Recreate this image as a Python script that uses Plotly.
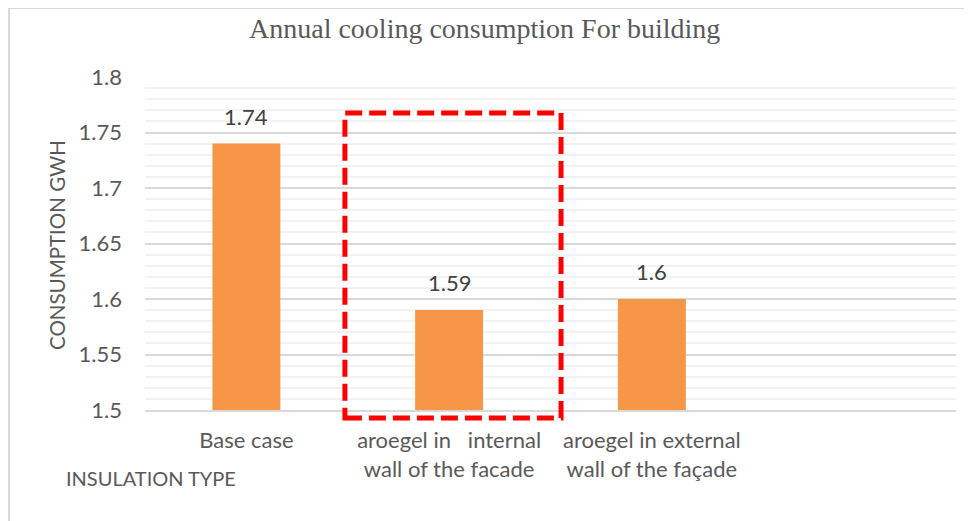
import plotly.graph_objects as go

# ---- data ----
categories = [
    "Base case",
    "aroegel in   internal<br>wall of the facade",
    "aroegel in external<br>wall of the façade",
    "",
]
values = [1.74, 1.59, 1.6, None]
y_ticks = [1.5, 1.55, 1.6, 1.65, 1.7, 1.75, 1.8]
y_tick_labels = ["1.5", "1.55", "1.6", "1.65", "1.7", "1.75", "1.8"]
title_text = "Annual cooling consumption For building"
y_title = "CONSUMPTION GWH"
x_title = "INSULATION TYPE"

# page body adds an 8px offset; work in window coordinates and convert
OFF = 8
W, H = 972 - OFF, 521 - OFF
L = 145 - OFF
R = W - (956 - OFF)
T = 77 - OFF
B = H - (410 - OFF)
pw, ph = W - L - R, H - T - B

X_RANGE = [-0.5, 3.5]
Y_RANGE = [1.5, 1.8]

def px_x(px):
    return (px - OFF - L) / pw

def px_y(py):
    return (H - B - (py - OFF)) / ph

def dx(v):
    return (v - X_RANGE[0]) / (X_RANGE[1] - X_RANGE[0])

def dy(v):
    return (v - Y_RANGE[0]) / (Y_RANGE[1] - Y_RANGE[0])

xs = list(range(len(categories)))

fig = go.Figure()
fig.add_trace(go.Bar(
    x=xs, y=values,
    marker=dict(color="#F79646", line=dict(width=0)),
    hoverinfo="skip",
))

label_font = dict(family="Lato, Open Sans, sans-serif", size=22, color="#595959")

annotations = []
for xi, v in zip(xs, values):
    if v is None:
        continue
    annotations.append(dict(
        x=xi, y=v, xref="x", yref="y", text=f"{v:g}", showarrow=False,
        yanchor="bottom", yshift=12,
        font=dict(family="Lato, Open Sans, sans-serif", size=22, color="#404040"),
    ))

annotations.append(dict(
    x=px_x(57), y=px_y(245), xref="paper", yref="paper", text=y_title,
    textangle=-90, showarrow=False, xanchor="center", yanchor="middle",
    font=dict(family="Lato, Open Sans, sans-serif", size=20.5, color="#595959"),
))
annotations.append(dict(
    x=px_x(64), y=px_y(478), xref="paper", yref="paper", text=x_title,
    showarrow=False, xanchor="left", yanchor="middle",
    font=dict(family="Lato, Open Sans, sans-serif", size=20, color="#595959"),
))
annotations.append(dict(
    x=px_x(484), y=px_y(29), xref="paper", yref="paper", text=title_text,
    showarrow=False, xanchor="center", yanchor="middle",
    font=dict(family="Liberation Serif, serif", size=28, color="#595959"),
))

shapes = [
    # outer chart border (top and left)
    dict(type="line", xref="paper", yref="paper",
         x0=px_x(8), x1=px_x(972), y0=px_y(8), y1=px_y(8),
         line=dict(color="#D9D9D9", width=2)),
    dict(type="line", xref="paper", yref="paper",
         x0=px_x(9), x1=px_x(9), y0=px_y(8), y1=px_y(521),
         line=dict(color="#D9D9D9", width=2)),
    # red dashed highlight box (paper refs so it is not clipped at the axis)
    dict(type="rect", xref="paper", yref="paper",
         x0=dx(0.486), x1=dx(1.552), y0=dy(1.4928), y1=dy(1.7676),
         line=dict(color="#FF0000", width=5, dash="17px,7px"),
         fillcolor="rgba(0,0,0,0)"),
]

fig.update_layout(
    width=W, height=H,
    margin=dict(l=L, r=R, t=T, b=B),
    paper_bgcolor="white", plot_bgcolor="white",
    showlegend=False,
    bargap=0.665,
    xaxis=dict(
        range=X_RANGE, tickmode="array", tickvals=xs, ticktext=categories,
        showgrid=False, zeroline=False, showline=True, linecolor="#D9D9D9",
        linewidth=2, ticks="", tickfont=label_font, ticklabelstandoff=10,
        fixedrange=True,
    ),
    yaxis=dict(
        range=Y_RANGE, tickmode="array", tickvals=y_ticks,
        ticktext=y_tick_labels, showgrid=True, gridcolor="#D9D9D9",
        gridwidth=2, zeroline=False, showline=False, ticks="",
        tickfont=label_font, ticklabelstandoff=22,
        minor=dict(dtick=0.01, showgrid=True, gridcolor="#F2F2F2", gridwidth=2),
        fixedrange=True,
    ),
    annotations=annotations,
    shapes=shapes,
)

fig.write_html("out.html")
